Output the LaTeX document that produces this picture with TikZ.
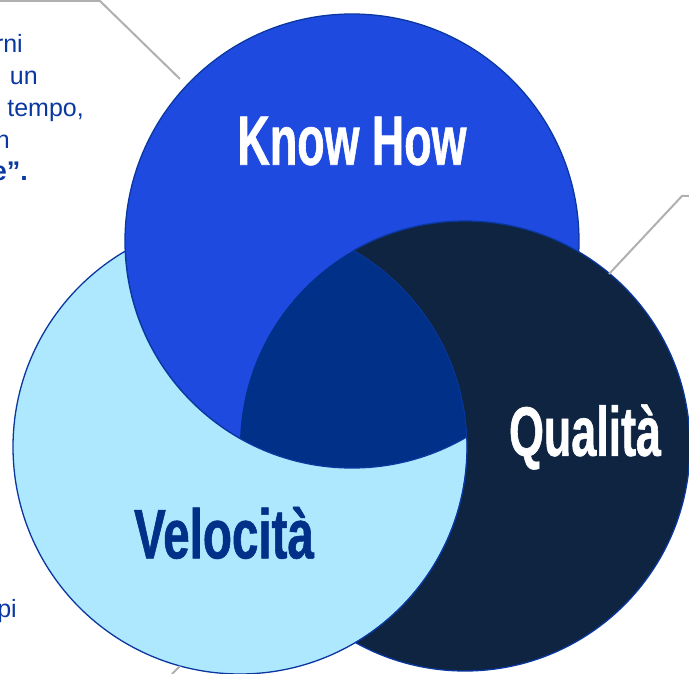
\documentclass[tikz,border=0pt]{standalone}
\usepackage{fontspec}
\setmainfont{Liberation Sans}
\newfontfamily\headfont[FakeStretch=0.64, FakeBold=0.8]{Liberation Sans}
\newfontfamily\headwidefont[FakeStretch=0.68, FakeBold=0.8]{Liberation Sans}
\usepackage{tikz}
\usepackage{xcolor}

\definecolor{knowblue}{RGB}{31,74,224}
\definecolor{speedblue}{RGB}{173,232,255}
\definecolor{qualnavy}{RGB}{14,36,64}
\definecolor{coreblue}{RGB}{0,48,135}
\definecolor{rimblue}{RGB}{10,56,160}
\definecolor{leadgray}{RGB}{176,176,176}

\tikzset{
    rim/.style={draw=rimblue, line width=1.3pt},
    title/.style={font=\headfont\bfseries\fontsize{70}{70}\selectfont, inner sep=0pt},
    fragtext/.style={font=\fontsize{25}{25}\selectfont, text=rimblue, inner sep=0pt, anchor=base east},
    leader/.style={draw=leadgray, line width=2pt}
}

\begin{document}
\begin{tikzpicture}[x=1pt, y=-1pt]
        \useasboundingbox (0,0) rectangle (689,674);

        % Circles
        \coordinate (k) at (352,241);
        \coordinate (q) at (465,446);
        \coordinate (v) at (240,447);

        % Know How
        \fill[knowblue, rim] (k) circle (227);

        % Qualita, outside Velocita
        \begin{scope}[even odd rule]
            \clip (-20,-20) rectangle (710,700) (v) circle (227);
            \fill[qualnavy, rim] (q) circle (225);
        \end{scope}

        % Velocita, outside Know How
        \begin{scope}[even odd rule]
            \clip (-20,-20) rectangle (710,700) (k) circle (227);
            \fill[speedblue, rim] (v) circle (227);
        \end{scope}

        % middle part
        \begin{scope}
            \clip (v) circle (227);
            \begin{scope}
                \clip (q) circle (225);
                \fill[coreblue] (k) circle (227);
            \end{scope}
            \draw[rim] (k) circle (227);
        \end{scope}

        \begin{scope}
            \clip (q) circle (225);
            \draw[rim, line width=0.8pt] (v) circle (227);
        \end{scope}

        % Titles
        \node[title, text=white] (knowhow) at (352,141) {Know How};
        \node[title, text=white] (qualita) at (585,437) {Qualità};
        \node[title, font=\headwidefont\bfseries\fontsize{70}{70}\selectfont, text=coreblue] (velocita) at (224,533) {Velocità};

        % Text cut at the border
        \node[fragtext] (l1) at (23,53) {rni};
        \node[fragtext] (l2) at (38,85) {un};
        \node[fragtext] (l3) at (84,117) {tempo,};
        \node[fragtext] (l4) at (10,149) {n};
        \node[fragtext, font=\bfseries\fontsize{27}{27}\selectfont] (l5) at (28,181) {e”.};
        \node[fragtext] (l6) at (17,617) {pi};

        % Leader lines
        \coordinate (a1) at (0,1);
        \coordinate (a2) at (100,1);
        \coordinate (a3) at (180,79);
        \coordinate (b1) at (689,196);
        \coordinate (b2) at (682,196);
        \coordinate (b3) at (609,274);
        \coordinate (c1) at (180,666);
        \coordinate (c2) at (172,674);

        \draw[leader] (a1) -- (a2) -- (a3);
        \draw[leader] (b1) -- (b2) -- (b3);
        \draw[leader] (c1) -- (c2);

    \end{tikzpicture}
\end{document}
